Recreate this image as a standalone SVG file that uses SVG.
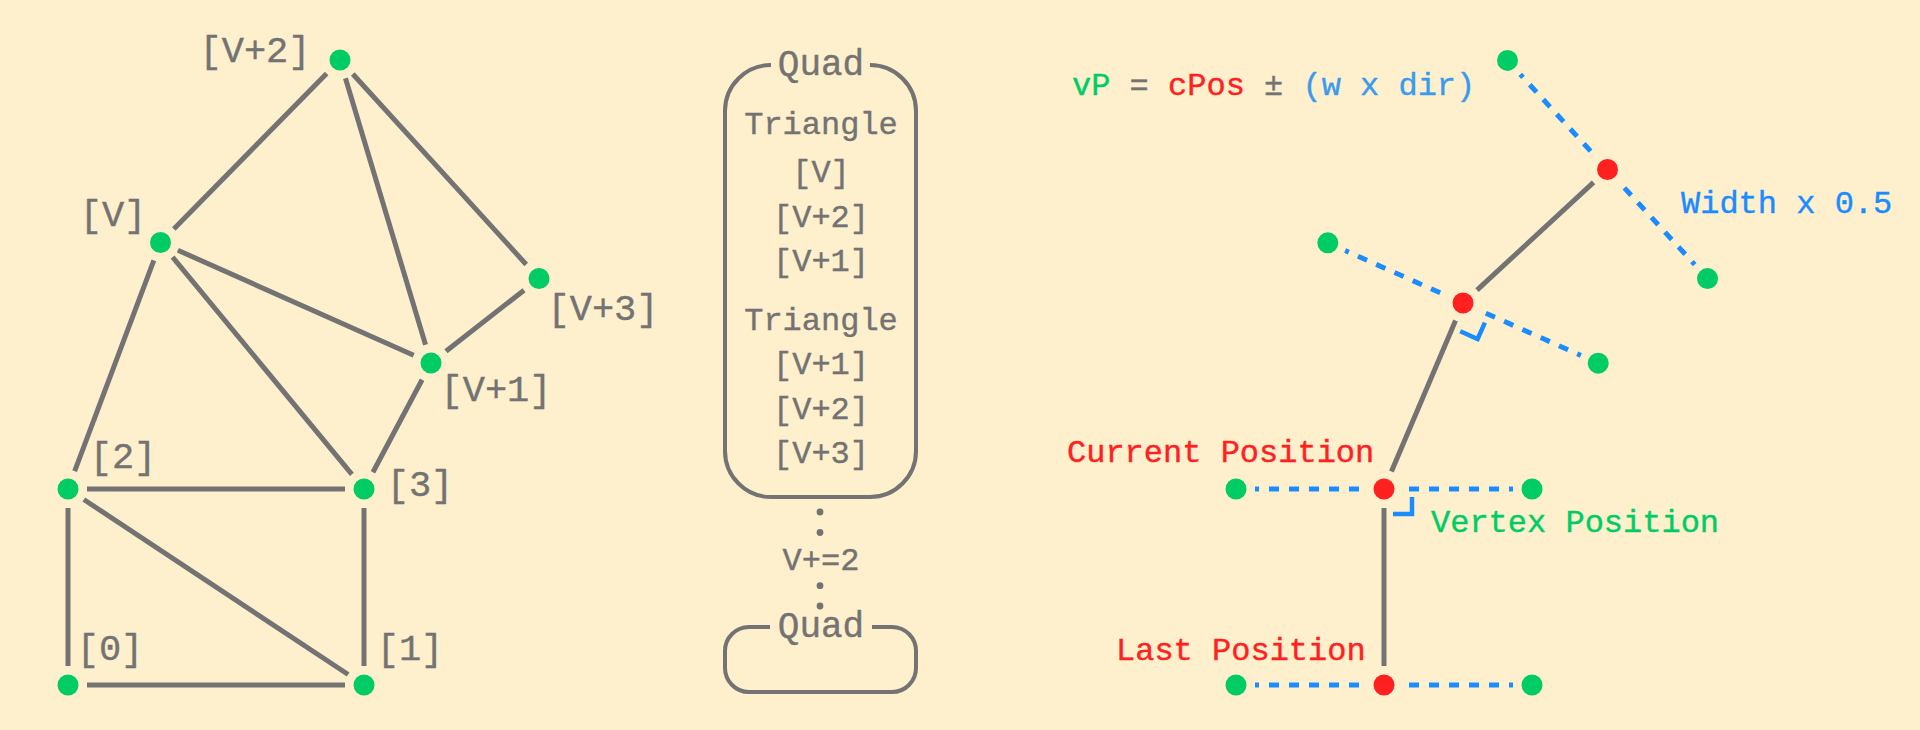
<svg xmlns="http://www.w3.org/2000/svg" width="1920" height="730" viewBox="0 0 1920 730">
<style>
.bg{fill:#FFF0CD}
.edge{stroke:#737373;stroke-width:5;fill:none}
.dash{stroke:#1A8CFF;stroke-width:5;fill:none;stroke-dasharray:10 10}
.mark{stroke:#1A8CFF;stroke-width:4.5;fill:none;stroke-linejoin:miter}
.box{stroke:#737373;stroke-width:4;fill:none}
.g{fill:#00CC66}
.r{fill:#FF2020}
.dot{fill:#737373}
text{font-family:"Liberation Mono","DejaVu Sans Mono",monospace;stroke-width:0.4px}
.lbl{fill:#737373;stroke:#737373;font-size:37px;text-anchor:middle}
.mid{fill:#737373;stroke:#737373;font-size:32px;text-anchor:middle}
.title{fill:#737373;stroke:#737373;font-size:36px;text-anchor:middle}
.rt{font-size:32px}
.tr{fill:#FF2020;stroke:#FF2020}
.tg{fill:#00CC66;stroke:#00CC66}
.tb{fill:#1A8CFF;stroke:#1A8CFF}
.tgray{fill:#737373;stroke:#737373}
.tlb{fill:#3A9BEE;stroke:#3A9BEE}
</style>
<rect class="bg" x="0" y="0" width="1920" height="730"/>

<g id="connectors">
  <line class="edge" x1="87" y1="685" x2="345" y2="685"/>
  <line class="edge" x1="68" y1="666" x2="68" y2="508"/>
  <line class="edge" x1="83.84" y1="499.49" x2="348.16" y2="674.51"/>
  <line class="edge" x1="364" y1="666" x2="364" y2="508"/>
  <line class="edge" x1="87" y1="489" x2="345" y2="489"/>
  <line class="edge" x1="74.67" y1="471.21" x2="153.83" y2="260.29"/>
  <line class="edge" x1="172.6" y1="257.15" x2="351.9" y2="474.35"/>
  <line class="edge" x1="372.92" y1="472.22" x2="422.08" y2="379.78"/>
  <line class="edge" x1="177.86" y1="250.23" x2="413.64" y2="355.27"/>
  <line class="edge" x1="173.82" y1="228.95" x2="326.68" y2="73.55"/>
  <line class="edge" x1="345.46" y1="78.2" x2="425.54" y2="344.8"/>
  <line class="edge" x1="352.79" y1="74.05" x2="526.21" y2="264.45"/>
  <line class="edge" x1="445.96" y1="351.29" x2="524.04" y2="290.21"/>

  <line class="edge" x1="1384" y1="666" x2="1384" y2="508"/>
  <line class="edge" x1="1391.43" y1="471.51" x2="1455.57" y2="320.49"/>
  <line class="edge" x1="1476.96" y1="290.11" x2="1593.54" y2="182.39"/>

  <line class="dash" x1="1409" y1="685" x2="1513" y2="685"/>
  <line class="dash" x1="1359" y1="685" x2="1255" y2="685"/>
  <line class="dash" x1="1409" y1="489" x2="1513" y2="489"/>
  <line class="dash" x1="1359" y1="489" x2="1255" y2="489"/>
  <line class="dash" x1="1485.84" y1="313.17" x2="1580.84" y2="355.45"/>
  <line class="dash" x1="1440.16" y1="292.83" x2="1345.16" y2="250.55"/>
  <line class="dash" x1="1624.4" y1="187.93" x2="1694.7" y2="264.57"/>
  <line class="dash" x1="1590.6" y1="151.07" x2="1520.3" y2="74.43"/>

  <polyline class="mark" points="1412,497 1412,514 1393,514"/>
  <polyline class="mark" points="1484.92,322.6 1477.6,339.04 1460.24,331.3"/>

  <circle class="dot" cx="820" cy="512" r="3.4"/>
  <circle class="dot" cx="820" cy="532.5" r="3.4"/>
  <circle class="dot" cx="820" cy="585.7" r="3.4"/>
  <circle class="dot" cx="820" cy="606" r="3.4"/>
</g>

<g id="node-0"><circle class="g" cx="68" cy="685" r="10.5"/><text class="lbl" x="110" y="660">[0]</text></g>
<g id="node-1"><circle class="g" cx="364" cy="685" r="10.5"/><text class="lbl" x="410" y="660">[1]</text></g>
<g id="node-2"><circle class="g" cx="68" cy="489" r="10.5"/><text class="lbl" x="123" y="468">[2]</text></g>
<g id="node-3"><circle class="g" cx="364" cy="489" r="10.5"/><text class="lbl" x="420" y="496">[3]</text></g>
<g id="node-V"><circle class="g" cx="160.5" cy="242.5" r="10.5"/><text class="lbl" x="113" y="226">[V]</text></g>
<g id="node-V1"><circle class="g" cx="431" cy="363" r="10.5"/><text class="lbl" x="496" y="401">[V+1]</text></g>
<g id="node-V2"><circle class="g" cx="340" cy="60" r="10.5"/><text class="lbl" x="255" y="62">[V+2]</text></g>
<g id="node-V3"><circle class="g" cx="539" cy="278.5" r="10.5"/><text class="lbl" x="603" y="320">[V+3]</text></g>

<g id="quad-1">
  <path class="box" d="M 771 65 A 46 46 0 0 0 725 111 V 451 A 46 46 0 0 0 771 497 H 870 A 46 46 0 0 0 916 451 V 111 A 46 46 0 0 0 870 65"/>
  <text class="title" x="821" y="74.5">Quad</text>
  <text class="mid" x="821" y="133.5">Triangle</text>
  <text class="mid" x="821" y="182">[V]</text>
  <text class="mid" x="821" y="226.5">[V+2]</text>
  <text class="mid" x="821" y="271">[V+1]</text>
  <text class="mid" x="821" y="329.5">Triangle</text>
  <text class="mid" x="821" y="374">[V+1]</text>
  <text class="mid" x="821" y="418.5">[V+2]</text>
  <text class="mid" x="821" y="463">[V+3]</text>
</g>
<g id="step"><text class="mid" x="821" y="570">V+=2</text></g>
<g id="quad-2">
  <path class="box" d="M 770 627 H 749 A 24 24 0 0 0 725 651 V 668 A 24 24 0 0 0 749 692 H 892 A 24 24 0 0 0 916 668 V 651 A 24 24 0 0 0 892 627 H 872"/>
  <text class="title" x="821" y="636.5">Quad</text>
</g>

<g id="formula"><text class="rt" x="1072" y="95"><tspan class="tg">vP</tspan><tspan class="tgray"> = </tspan><tspan class="tr">cPos</tspan><tspan class="tgray"> ± </tspan><tspan class="tlb">(w x dir)</tspan></text></g>

<g id="pos-last">
  <circle class="r" cx="1384" cy="685" r="10.5"/>
  <circle class="g" cx="1236" cy="685" r="10.5"/>
  <circle class="g" cx="1532" cy="685" r="10.5"/>
  <text class="rt tr" x="1116" y="660">Last Position</text>
</g>
<g id="pos-current">
  <circle class="r" cx="1384" cy="489" r="10.5"/>
  <circle class="g" cx="1236" cy="489" r="10.5"/>
  <circle class="g" cx="1532" cy="489" r="10.5"/>
  <text class="rt tr" x="1067" y="462">Current Position</text>
  <text class="rt tg" x="1431" y="532">Vertex Position</text>
</g>
<g id="pos-mid">
  <circle class="r" cx="1463" cy="303" r="10.5"/>
  <circle class="g" cx="1598.2" cy="363.2" r="10.5"/>
  <circle class="g" cx="1327.8" cy="242.8" r="10.5"/>
</g>
<g id="pos-top">
  <circle class="r" cx="1607.5" cy="169.5" r="10.5"/>
  <circle class="g" cx="1707.5" cy="278.6" r="10.5"/>
  <circle class="g" cx="1507.5" cy="60.4" r="10.5"/>
  <text class="rt tb" x="1681" y="213">Width x 0.5</text>
</g>
</svg>
